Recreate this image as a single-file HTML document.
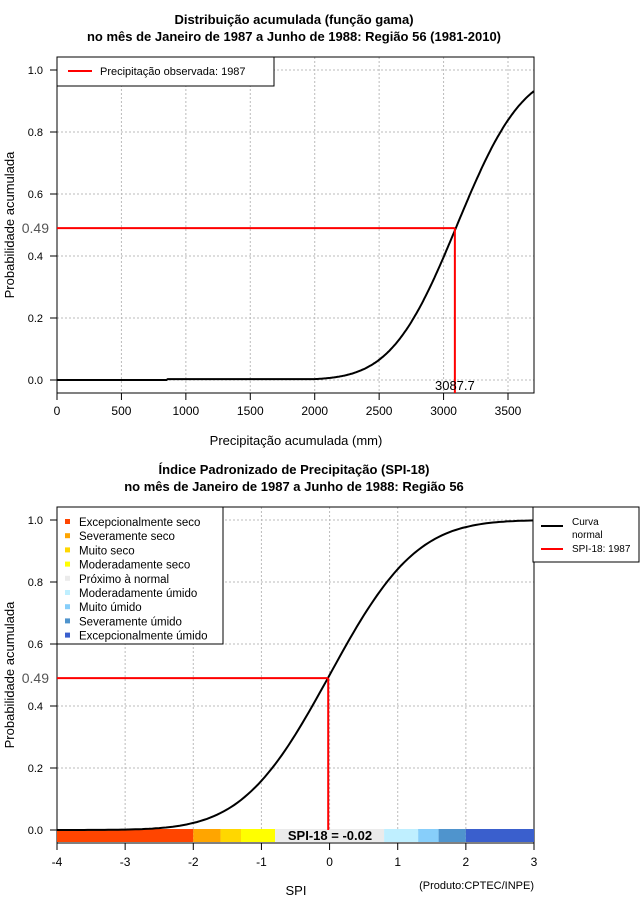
<!DOCTYPE html>
<html><head><meta charset="utf-8"><style>
body{margin:0;background:#fff;}
svg text{font-family:"Liberation Sans",sans-serif;}
</style></head><body>
<svg id="s" width="640" height="900" xmlns="http://www.w3.org/2000/svg">
<rect width="640" height="900" fill="#fff"/>
<text x="294" y="24" font-size="13" font-weight="bold" text-anchor="middle">Distribuição acumulada (função gama)</text>
<text x="294" y="41" font-size="13" font-weight="bold" text-anchor="middle">no mês de Janeiro de 1987 a Junho de 1988: Região 56 (1981-2010)</text>
<g id="top"></g>
<text x="296" y="445" font-size="13" text-anchor="middle">Precipitação acumulada (mm)</text>
<text x="14" y="225" font-size="13" text-anchor="middle" transform="rotate(-90 14 225)">Probabilidade acumulada</text>

<text x="294" y="474" font-size="13" font-weight="bold" text-anchor="middle">Índice Padronizado de Precipitação (SPI-18)</text>
<text x="294" y="491" font-size="13" font-weight="bold" text-anchor="middle">no mês de Janeiro de 1987 a Junho de 1988: Região 56</text>
<g id="bot"></g>
<text x="296" y="895" font-size="13" text-anchor="middle">SPI</text>
<text x="14" y="675" font-size="13" text-anchor="middle" transform="rotate(-90 14 675)">Probabilidade acumulada</text>
<text x="534" y="889" font-size="11" text-anchor="end">(Produto:CPTEC/INPE)</text>
</svg>
<script>
function erf(x){var s=x<0?-1:1;x=Math.abs(x);var t=1/(1+0.3275911*x);var y=1-(((((1.061405429*t-1.453152027)*t)+1.421413741)*t-0.284496736)*t+0.254829592)*t*Math.exp(-x*x);return s*y;}
function Phi(z){return 0.5*(1+erf(z/Math.SQRT2));}
var NS="http://www.w3.org/2000/svg";
function el(p,tag,a,txt){var e=document.createElementNS(NS,tag);for(var k in a)e.setAttribute(k,a[k]);if(txt!=null)e.textContent=txt;p.appendChild(e);return e;}
function panel(g,x0,x1,y0,y1,yZero,yOne,xticks,xmap){
  xticks.forEach(function(v){var x=xmap(v);el(g,'line',{x1:x,x2:x,y1:y0,y2:y1,stroke:'#bbb','stroke-dasharray':'2,2','stroke-width':1});});
  for(var i=0;i<=5;i++){var y=yZero-(yZero-yOne)*i/5;el(g,'line',{x1:x0,x2:x1,y1:y,y2:y,stroke:'#bbb','stroke-dasharray':'2,2','stroke-width':1});
    el(g,'line',{x1:x0-7,x2:x0,y1:y,y2:y,stroke:'#000'});
    el(g,'text',{x:43,y:y+4,'font-size':11,'text-anchor':'end'},(i/5).toFixed(1));}
  el(g,'rect',{x:x0,y:y0,width:x1-x0,height:y1-y0,fill:'none',stroke:'#000','stroke-width':1});
}
var g=document.getElementById('top');
var tx0=57,tx1=534,ty0=57,ty1=393,tz=380,to=70;
function mx(v){return 57+v*451/3500;}
var xt=[0,500,1000,1500,2000,2500,3000,3500];
panel(g,tx0,tx1,ty0,ty1,tz,to,xt,mx);
xt.forEach(function(v){var x=mx(v);el(g,'line',{x1:x,x2:x,y1:ty1,y2:ty1+7,stroke:'#000'});el(g,'text',{x:x,y:ty1+22,'font-size':12,'text-anchor':'middle'},v);});
var d='';for(var v=0;v<=3700;v+=10){var p=Phi((v-3105)/400);if(v>850)p=Math.max(p,0.003);var y=tz-(tz-to)*p;d+=(v?'L':'M')+mx(v).toFixed(1)+','+y.toFixed(1);}
el(g,'path',{d:d,fill:'none',stroke:'#000','stroke-width':2});
var yr=tz-(tz-to)*0.49,xr=mx(3087.7);
el(g,'line',{x1:tx0,x2:xr,y1:yr,y2:yr,stroke:'#f00','stroke-width':2});
el(g,'line',{x1:xr,x2:xr,y1:yr,y2:ty1,stroke:'#f00','stroke-width':2});
el(g,'rect',{x:20,y:yr-9,width:30,height:18,fill:'#fff'});
el(g,'text',{x:49,y:yr+5,'font-size':14,'text-anchor':'end',fill:'#555'},'0.49');
el(g,'text',{x:xr,y:390,'font-size':13,'text-anchor':'middle'},'3087.7');
el(g,'rect',{x:57,y:57,width:217,height:29,fill:'#fff',stroke:'#000'});
el(g,'line',{x1:68,x2:92,y1:71,y2:71,stroke:'#f00','stroke-width':2});
el(g,'text',{x:100,y:75,'font-size':11},'Precipitação observada: 1987');
g=document.getElementById('bot');
var bx0=57,bx1=534,by0=507,by1=843,bz=830,bo=520;
function sx(v){return 57+(v+4)*477/7;}
var st=[-4,-3,-2,-1,0,1,2,3];
panel(g,bx0,bx1,by0,by1,bz,bo,st,sx);
var segs=[[-4,-2,'#FF4500'],[-2,-1.6,'#FFA500'],[-1.6,-1.3,'#FFD700'],[-1.3,-0.8,'#FFFF00'],[-0.8,0.8,'#EBEBEB'],[0.8,1.3,'#BFEFFF'],[1.3,1.6,'#87CEFA'],[1.6,2,'#4F94CD'],[2,3,'#3A5FCD']];
segs.forEach(function(s){el(g,'rect',{x:sx(s[0]),y:829,width:sx(s[1])-sx(s[0]),height:13,fill:s[2]});});
st.forEach(function(v){var x=sx(v);el(g,'line',{x1:x,x2:x,y1:by1,y2:by1+7,stroke:'#000'});el(g,'text',{x:x,y:by1+23,'font-size':12,'text-anchor':'middle'},v);});
d='';for(var v=-4;v<=3.001;v+=0.05){var y=bz-(bz-bo)*Phi(v);d+=(v>-4?'L':'M')+sx(v).toFixed(1)+','+y.toFixed(1);}
el(g,'path',{d:d,fill:'none',stroke:'#000','stroke-width':2});
yr=bz-(bz-bo)*0.49;xr=sx(-0.02);
el(g,'line',{x1:bx0,x2:xr,y1:yr,y2:yr,stroke:'#f00','stroke-width':2});
el(g,'line',{x1:xr,x2:xr,y1:yr,y2:830,stroke:'#f00','stroke-width':2});
el(g,'rect',{x:20,y:yr-9,width:30,height:18,fill:'#fff'});
el(g,'text',{x:49,y:yr+5,'font-size':14,'text-anchor':'end',fill:'#555'},'0.49');
el(g,'text',{x:330,y:840,'font-size':13,'font-weight':'bold','text-anchor':'middle'},'SPI-18 = -0.02');
el(g,'rect',{x:57,y:507,width:166,height:137,fill:'#fff',stroke:'#000'});
var L=[['Excepcionalmente seco','#FF4500'],['Severamente seco','#FFA500'],['Muito seco','#FFD700'],['Moderadamente seco','#FFFF00'],['Próximo à normal','#EBEBEB'],['Moderadamente úmido','#BFEFFF'],['Muito úmido','#87CEFA'],['Severamente úmido','#4F94CD'],['Excepcionalmente úmido','#3A5FCD']];
L.forEach(function(l,i){var y=522+i*14.2;el(g,'rect',{x:65,y:y-3,width:5,height:5,fill:l[1]});el(g,'text',{x:79,y:y+4,'font-size':11.5},l[0]);});
el(g,'rect',{x:533,y:507,width:106,height:55,fill:'#fff',stroke:'#000'});
el(g,'line',{x1:541,x2:563,y1:526,y2:526,stroke:'#000','stroke-width':2});
el(g,'text',{x:572,y:525,'font-size':10},'Curva');
el(g,'text',{x:572,y:538,'font-size':10},'normal');
el(g,'line',{x1:541,x2:563,y1:549,y2:549,stroke:'#f00','stroke-width':2});
el(g,'text',{x:572,y:552,'font-size':10},'SPI-18: 1987');
</script>
</body></html>
